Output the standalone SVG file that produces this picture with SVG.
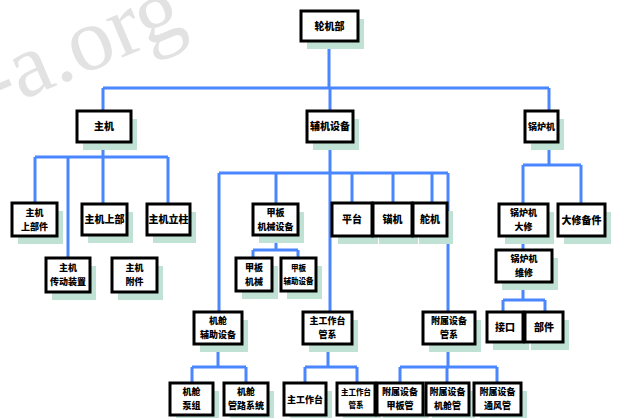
<svg xmlns="http://www.w3.org/2000/svg" width="619" height="418" viewBox="0 0 619 418">
<style>
.sh{fill:#bfe2d5}
.bx{fill:#fff;stroke:#000;stroke-width:3}
.t{font-family:"Noto Sans CJK SC","Noto Sans",sans-serif;font-size:10px;font-weight:900;fill:#000;text-anchor:middle}
.s{font-size:9px}
.xs{font-size:7.5px}
.c{fill:none;stroke:#4a86ff;stroke-width:3}
.wm{font-family:"Liberation Serif",serif;font-size:90px;fill:#e2e2e2}
</style>
<rect width="619" height="418" fill="#fff"/>
<text class="wm" transform="translate(-6,112) rotate(-23)">-a.org</text>
<g id="connectors">
<path class="c" d="M329 41V88M103 88H549M103 88V111M330 88V111M549 88V111"/>
<path class="c" d="M103 142V157M35 157H168M35 157V203M68 157V258M103 157V204M168 157V204"/>
<path class="c" d="M330 142V312M219 173H448M219 173V312M276 173V204M352 173V203M393 173V203M432 173V203M448 173V312"/>
<path class="c" d="M276 235V250M253 250H298M253 250V258M298 250V258"/>
<path class="c" d="M549 142V165M523 165H581M523 165V204M581 165V204M523 236V250M523 282V300M503 300H545M503 300V312M545 300V312"/>
<path class="c" d="M218 344V367M192 367H246M192 367V383M246 367V383"/>
<path class="c" d="M328 344V367M305 367H357M305 367V383M357 367V383"/>
<path class="c" d="M448 344V367M400 367H497M400 367V383M447 367V383M497 367V383"/>
</g>
<g id="root"><rect class="sh" x="307" y="19" width="57" height="30"/><rect class="bx" x="301" y="11" width="57" height="30"/><text class="t" x="329.5" y="30">轮机部</text></g>
<g id="zhuji"><rect class="sh" x="83" y="119" width="54" height="31"/><rect class="bx" x="77" y="111" width="54" height="31"/><text class="t" x="104" y="130">主机</text></g>
<g id="fuji"><rect class="sh" x="313" y="119" width="46" height="31"/><rect class="bx" x="307" y="111" width="46" height="31"/><text class="t" x="330" y="130">辅机设备</text></g>
<g id="guolu"><rect class="sh" x="531" y="119" width="33" height="31"/><rect class="bx" x="525" y="111" width="33" height="31"/><text class="t s" x="541.5" y="130">锅炉机</text></g>
<g id="a"><rect class="sh" x="18" y="211" width="45" height="33"/><rect class="bx" x="12" y="203" width="45" height="33"/><text class="t s" x="34.5" y="216">主机</text><text class="t s" x="34.5" y="230">上部件</text></g>
<g id="b"><rect class="sh" x="88" y="212" width="45" height="31"/><rect class="bx" x="82" y="204" width="45" height="31"/><text class="t" x="104.5" y="223">主机上部</text></g>
<g id="c"><rect class="sh" x="153" y="212" width="43" height="31"/><rect class="bx" x="147" y="204" width="43" height="31"/><text class="t" x="168.5" y="223">主机立柱</text></g>
<g id="d"><rect class="sh" x="52" y="266" width="44" height="34"/><rect class="bx" x="46" y="258" width="44" height="34"/><text class="t s" x="68" y="271">主机</text><text class="t s" x="68" y="285">传动装置</text></g>
<g id="e"><rect class="sh" x="118" y="266" width="45" height="34"/><rect class="bx" x="112" y="258" width="45" height="34"/><text class="t s" x="134.5" y="271">主机</text><text class="t s" x="134.5" y="285">附件</text></g>
<g id="jiaban"><rect class="sh" x="259" y="212" width="45" height="31"/><rect class="bx" x="253" y="204" width="45" height="31"/><text class="t s" x="275.5" y="216">甲板</text><text class="t s" x="275.5" y="230">机械设备</text></g>
<g id="pingtai"><rect class="sh" x="338" y="211" width="40" height="33"/><rect class="bx" x="332" y="203" width="40" height="33"/><text class="t" x="352" y="223">平台</text></g>
<g id="maoji"><rect class="sh" x="379" y="211" width="39" height="33"/><rect class="bx" x="373" y="203" width="39" height="33"/><text class="t" x="392.5" y="223">锚机</text></g>
<g id="duoji"><rect class="sh" x="419" y="211" width="34" height="33"/><rect class="bx" x="413" y="203" width="34" height="33"/><text class="t" x="430" y="223">舵机</text></g>
<g id="f"><rect class="sh" x="242" y="266" width="36" height="33"/><rect class="bx" x="236" y="258" width="36" height="33"/><text class="t s" x="254" y="271">甲板</text><text class="t s" x="254" y="285">机械</text></g>
<g id="g"><rect class="sh" x="287" y="266" width="35" height="33"/><rect class="bx" x="281" y="258" width="35" height="33"/><text class="t xs" x="298.5" y="271">甲板</text><text class="t xs" x="298.5" y="284">辅助设备</text></g>
<g id="m"><rect class="sh" x="200" y="320" width="48" height="32"/><rect class="bx" x="194" y="312" width="48" height="32"/><text class="t s" x="218" y="324">机舱</text><text class="t s" x="218" y="338">辅助设备</text></g>
<g id="n"><rect class="sh" x="309" y="320" width="49" height="32"/><rect class="bx" x="303" y="312" width="49" height="32"/><text class="t s" x="327.5" y="324">主工作台</text><text class="t s" x="327.5" y="338">管系</text></g>
<g id="o"><rect class="sh" x="429" y="320" width="52" height="32"/><rect class="bx" x="423" y="312" width="52" height="32"/><text class="t s" x="449" y="324">附属设备</text><text class="t s" x="449" y="338">管系</text></g>
<g id="p"><rect class="sh" x="176" y="391" width="43" height="32"/><rect class="bx" x="170" y="383" width="43" height="32"/><text class="t s" x="191.5" y="395">机舱</text><text class="t s" x="191.5" y="409">泵组</text></g>
<g id="q"><rect class="sh" x="230" y="391" width="44" height="32"/><rect class="bx" x="224" y="383" width="44" height="32"/><text class="t s" x="246" y="395">机舱</text><text class="t s" x="246" y="409">管路系统</text></g>
<g id="r"><rect class="sh" x="290" y="391" width="42" height="32"/><rect class="bx" x="284" y="383" width="42" height="32"/><text class="t s" x="305" y="403">主工作台</text></g>
<g id="s"><rect class="sh" x="343" y="391" width="38" height="32"/><rect class="bx" x="337" y="383" width="38" height="32"/><text class="t xs" x="356" y="395">主工作台</text><text class="t xs" x="356" y="408">管系</text></g>
<g id="t"><rect class="sh" x="383" y="391" width="46" height="32"/><rect class="bx" x="377" y="383" width="46" height="32"/><text class="t s" x="400" y="395">附属设备</text><text class="t s" x="400" y="409">甲板管</text></g>
<g id="u"><rect class="sh" x="432" y="391" width="43" height="32"/><rect class="bx" x="426" y="383" width="43" height="32"/><text class="t s" x="447.5" y="395">附属设备</text><text class="t s" x="447.5" y="409">机舱管</text></g>
<g id="v"><rect class="sh" x="480" y="391" width="47" height="32"/><rect class="bx" x="474" y="383" width="47" height="32"/><text class="t s" x="497.5" y="395">附属设备</text><text class="t s" x="497.5" y="409">通风管</text></g>
<g id="h"><rect class="sh" x="505" y="212" width="49" height="32"/><rect class="bx" x="499" y="204" width="49" height="32"/><text class="t s" x="523.5" y="216">锅炉机</text><text class="t s" x="523.5" y="230">大修</text></g>
<g id="i"><rect class="sh" x="564" y="212" width="47" height="32"/><rect class="bx" x="558" y="204" width="47" height="32"/><text class="t" x="581.5" y="224">大修备件</text></g>
<g id="j"><rect class="sh" x="502" y="258" width="56" height="32"/><rect class="bx" x="496" y="250" width="56" height="32"/><text class="t s" x="524" y="262">锅炉机</text><text class="t s" x="524" y="276">维修</text></g>
<g id="k"><rect class="sh" x="493" y="320" width="36" height="30"/><rect class="bx" x="487" y="312" width="36" height="30"/><text class="t" x="505" y="331">接口</text></g>
<g id="l"><rect class="sh" x="531" y="320" width="38" height="30"/><rect class="bx" x="525" y="312" width="38" height="30"/><text class="t" x="544" y="331">部件</text></g>
</svg>
